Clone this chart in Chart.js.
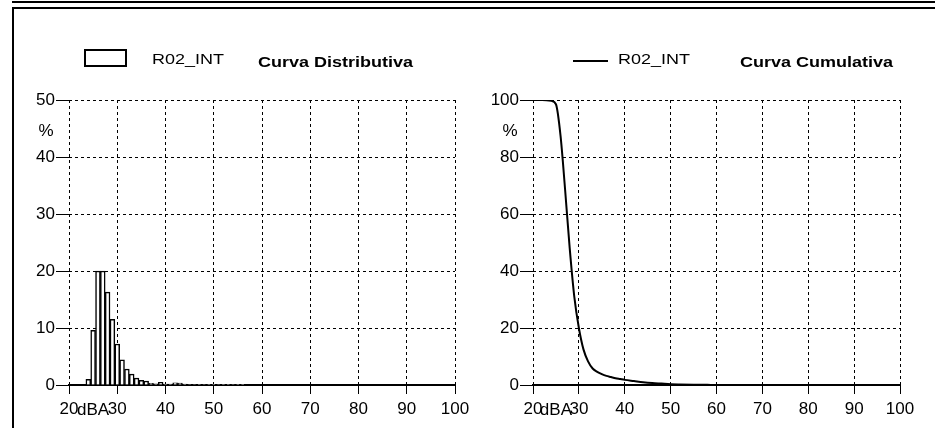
<!DOCTYPE html>
<html>
<head>
<meta charset="utf-8">
<script src="https://cdn.jsdelivr.net/npm/chart.js@4.4.1/dist/chart.umd.min.js"></script>
<style>
  body { margin: 0; background: #fff; }
  #wrap { position: relative; width: 935px; height: 428px; overflow: hidden; font-family: "Liberation Sans", Arial, sans-serif; }
  canvas { position: absolute; top: 0; }
  .hline { position: absolute; left: 12px; right: 0; height: 1.5px; background: #000; }
  .vline { position: absolute; left: 12px; top: 7px; bottom: 0; width: 1.5px; background: #000; }
  .txt { position: absolute; font-size: 15px; line-height: 15px; white-space: nowrap; transform: scaleX(1.2); transform-origin: left top; color: #000; }
  .bold { font-weight: bold; }
</style>
</head>
<body>
<div id="wrap">
  <div class="hline" style="top:1px"></div>
  <div class="hline" style="top:7px"></div>
  <div class="vline"></div>

  <canvas id="distChart" width="470" height="428" style="left:0"></canvas>
  <canvas id="cumChart" width="465" height="428" style="left:470px"></canvas>

  <div style="position:absolute;left:84px;top:49px;width:43px;height:18px;border:2px solid #000;box-sizing:border-box;background:#fff"></div>
  <div class="txt" style="left:152px;top:51px">R02_INT</div>
  <div class="txt bold" style="left:258px;top:54px">Curva Distributiva</div>

  <div style="position:absolute;left:573px;top:60px;width:35px;height:2px;background:#000"></div>
  <div class="txt" style="left:618px;top:51px">R02_INT</div>
  <div class="txt bold" style="left:740px;top:54px">Curva Cumulativa</div>
</div>

<script>
// distribution: % of time per 1 dB class (class centre, dBA)
const distLevels = [24, 25, 26, 27, 28, 29, 30, 31, 32, 33, 34, 35, 36, 37, 38, 39, 40, 41, 42, 43, 44, 45, 46, 47, 48, 49, 50, 51, 52, 53, 54, 55, 56];
const distValues = [1.0, 9.6, 20, 20, 16.3, 11.5, 7.2, 4.4, 2.8, 1.9, 1.2, 0.8, 0.7, 0.3, 0.2, 0.45, 0.15, 0.15, 0.4, 0.35, 0.15, 0.1, 0.1, 0.05, 0.1, 0.05, 0.05, 0.1, 0.05, 0.05, 0.1, 0.05, 0.05];

// cumulative: % of time level is exceeded
const cumLevels = [20, 22, 24, 25, 26, 27, 28, 29, 30, 31, 32, 33, 34, 35, 36, 37, 38, 39, 40, 42, 44, 46, 48, 50, 52, 55, 58, 60, 70, 80, 90, 100];
const cumValues = [100, 100, 99.7, 98.5, 87.5, 68.5, 48, 31, 20, 12.5, 8.3, 5.8, 4.6, 3.8, 3.2, 2.8, 2.4, 2.1, 1.8, 1.4, 1.0, 0.7, 0.5, 0.3, 0.2, 0.1, 0.05, 0, 0, 0, 0, 0];

const xTicks = [20, 30, 40, 50, 60, 70, 80, 90, 100];

Chart.defaults.font.family = '"Liberation Sans", Arial, sans-serif';
Chart.defaults.font.size = 17;
Chart.defaults.color = '#000';
Chart.defaults.animation = false;

// "%" above the y axis and "dBA" among the x labels
const unitLabels = {
    id: 'unitLabels',
    afterDraw(chart) {
        const ctx = chart.ctx;
        const xs = chart.scales.x, ys = chart.scales.y;
        ctx.save();
        ctx.fillStyle = '#000';
        ctx.font = '17px "Liberation Sans", Arial, sans-serif';
        ctx.textAlign = 'center';
        ctx.textBaseline = 'middle';
        ctx.fillText('%', xs.left - 23, ys.top + 31);
        ctx.fillText('dBA', xs.getPixelForValue(25), xs.top + 25);
        ctx.restore();
    }
};

function axes(yMax, yStep, yWidth) {
    return {
        x: {
            type: 'linear', min: 20, max: 100, offset: false,
            afterBuildTicks: s => { s.ticks = xTicks.map(v => ({ value: v })); },
            afterFit: s => { s.height = 43; s.paddingLeft = 0; s.paddingRight = 0; },
            ticks: { padding: 5, maxRotation: 0 },
            grid: { offset: false, color: '#000', lineWidth: 1, tickLength: 9, tickBorderDash: [], tickColor: '#000', tickWidth: 1 },
            border: { display: true, color: '#000', width: 2, dash: [3, 3] }
        },
        y: {
            min: 0, max: yMax,
            afterFit: s => { s.width = yWidth; },
            ticks: { stepSize: yStep, padding: 1 },
            grid: { color: '#000', lineWidth: 1, tickLength: 13, tickBorderDash: [], tickColor: '#000', tickWidth: 1 },
            border: { display: false, dash: [3, 3] }
        }
    };
}

new Chart(document.getElementById('distChart').getContext('2d'), {
    type: 'bar',
    data: {
        datasets: [{
            data: distLevels.map((l, i) => ({ x: l, y: distValues[i] })),
            backgroundColor: '#fff',
            borderColor: '#000',
            borderWidth: 1.5,
            barPercentage: 1,
            categoryPercentage: 1
        }]
    },
    options: {
        responsive: false,
        layout: { padding: { top: 100, left: 0, right: 15, bottom: 0 } },
        plugins: { legend: { display: false }, tooltip: { enabled: false } },
        scales: axes(50, 10, 69)
    },
    plugins: [unitLabels]
});

new Chart(document.getElementById('cumChart').getContext('2d'), {
    type: 'line',
    data: {
        datasets: [{
            data: cumLevels.map((l, i) => ({ x: l, y: cumValues[i] })),
            borderColor: '#000',
            borderWidth: 2,
            pointRadius: 0,
            fill: false,
            cubicInterpolationMode: 'monotone'
        }]
    },
    options: {
        responsive: false,
        layout: { padding: { top: 100, left: 0, right: 35, bottom: 0 } },
        plugins: { legend: { display: false }, tooltip: { enabled: false } },
        scales: axes(100, 20, 63)
    },
    plugins: [unitLabels]
});
</script>
</body>
</html>
